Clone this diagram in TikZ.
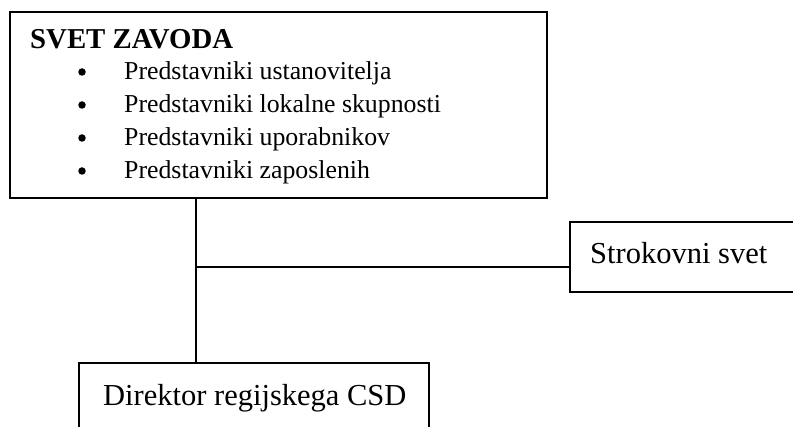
\documentclass[tikz,border=0pt]{standalone}
\usepackage{fontspec}
\setmainfont{Liberation Serif}
\begin{document}
\begin{tikzpicture}[x=1pt,y=-1pt,
  frame/.style={draw, line width=2pt, rectangle, inner sep=0pt, anchor=north west},
  link/.style={line width=2pt},
  title/.style={anchor=base west, inner sep=0pt, font=\fontsize{28.8}{34}\selectfont\bfseries},
  item/.style={anchor=base west, inner sep=0pt, font=\fontsize{25.8}{30}\selectfont},
  dot/.style={circle, fill, inner sep=0pt, minimum size=7.5pt},
  label/.style={anchor=base west, inner sep=0pt, font=\fontsize{30.5}{36}\selectfont}]
\useasboundingbox (0,0) rectangle (793,427);
\clip (0,0) rectangle (793,427);

% council box with its member list
\node[frame, minimum width=537pt, minimum height=186pt] (svet) at (9,11) {};
\node[title] (svettitle) at (30,49) {SVET ZAVODA};
\node[item] (i1) at (124,80) {Predstavniki ustanovitelja};
\node[item] (i2) at (124,113) {Predstavniki lokalne skupnosti};
\node[item] (i3) at (124,146) {Predstavniki uporabnikov};
\node[item] (i4) at (124,179) {Predstavniki zaposlenih};
\node[dot] (b1) at (82,72) {};
\node[dot] (b2) at (82,105) {};
\node[dot] (b3) at (82,138) {};
\node[dot] (b4) at (82,171) {};

% expert council, running off the right edge
\node[frame, minimum width=240pt, minimum height=70pt] (stro) at (569,221) {};
\node[label] (strotext) at (590,264) {Strokovni svet};

% director, running off the bottom edge
\node[frame, minimum width=350pt, minimum height=90pt] (dir) at (78,362) {};
\node[label] (dirtext) at (103,406) {Direktor regijskega CSD};

% connectors
\coordinate (j) at (196,267);
\draw[link] (svet.south -| j) -- (dir.north -| j);
\draw[link] (j) -- (j -| stro.west);
\end{tikzpicture}
\end{document}
